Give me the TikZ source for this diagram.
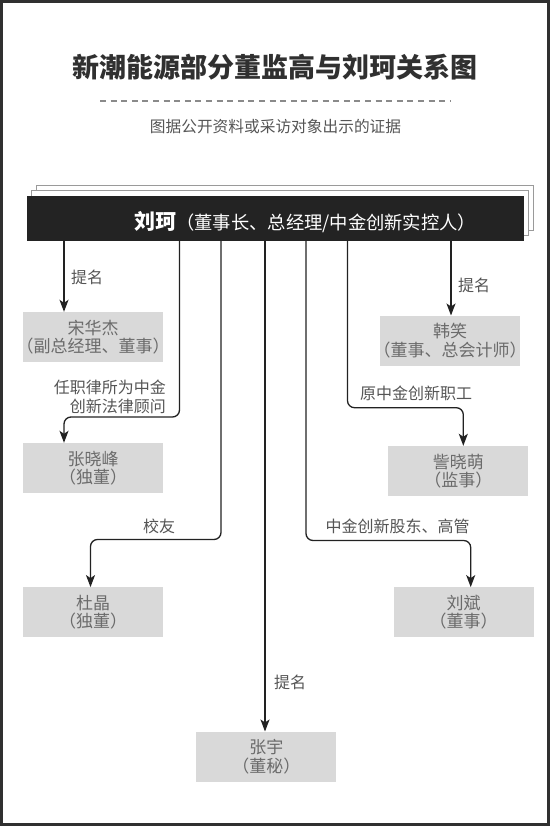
\documentclass[tikz,border=0pt]{standalone}
\usepackage{fontspec}
\usetikzlibrary{arrows.meta,shadows}
\newfontfamily\cjk{Noto Sans CJK SC}
\definecolor{Frame}{HTML}{303030}
\definecolor{Ink}{HTML}{222222}
\definecolor{BossFill}{HTML}{232323}
\definecolor{SheetLine}{HTML}{9A9A9A}
\definecolor{BoxGrey}{HTML}{D9D9D9}
\definecolor{BoxText}{HTML}{6B6B6B}
\definecolor{LabelText}{HTML}{555555}
\definecolor{DashGrey}{HTML}{8A8A8A}
\newcommand{\roleline}[1]{\makebox[136pt]{#1}}

\begin{document}
\begin{tikzpicture}[x=1pt,y=-1pt,every node/.style={font=\cjk},
  person/.style={fill=BoxGrey,minimum width=140pt,minimum height=50pt,inner sep=0pt,align=center,text=BoxText,font=\cjk\fontsize{17}{18.5}\selectfont},
  link/.style={draw=Ink,line width=1.3pt,rounded corners=7pt,-{Stealth[length=12pt,width=9pt,inset=3pt]}},
  tag/.style={anchor=west,inner sep=0pt,text=LabelText,font=\cjk\fontsize{16}{18.7}\selectfont}]
\useasboundingbox (0,0) rectangle (550,826);
\fill[white] (0,0) rectangle (550,826);
\draw[Frame,line width=3pt] (1.5,1.5) rectangle (548.5,824.5);
% heading
\node[font=\cjk\bfseries\fontsize{27}{30}\selectfont,text=Frame] (title) at (275,67) {新潮能源部分董监高与刘珂关系图};
\draw[DashGrey,line width=1.2pt,dash pattern=on 6pt off 4.6pt] (100,101) -- (451,101);
\node[font=\cjk\fontsize{15.7}{18}\selectfont,text=LabelText] (subtitle) at (275.5,127) {图据公开资料或采访对象出示的证据};
% top box
\node[fill=BossFill,minimum width=497pt,minimum height=45pt,inner sep=0pt,double copy shadow={shadow xshift=4.5pt,shadow yshift=5.3pt,fill=white,draw=SheetLine,line width=0.8pt}] (boss) at (275.5,218.5) {};
\node[anchor=west,inner sep=0pt,text=white] (bossname) at (134,222) {\fontsize{21}{24}\selectfont\bfseries 刘珂\fontsize{18.3}{24}\selectfont\mdseries （董事长、总经理/中金创新实控人）};
% people
\node[person] (song) at (93,337) {宋华杰\\\roleline{（副总经理、董事）}};
\node[person] (zhangxf) at (93,468) {张晓峰\\（独董）};
\node[person] (du) at (93,612.3) {杜晶\\（独董）};
\node[person] (zhangyu) at (266.3,756.7) {张宇\\（董秘）};
\node[person] (han) at (450,340.7) {韩笑\\\roleline{（董事、总会计师）}};
\node[person] (zi) at (458.3,471) {訾晓萌\\（监事）};
\node[person] (liubin) at (463.7,612.3) {刘斌\\（董事）};
% links
\draw[link] (boss.south -| 64,0) -- (song.north -| 64,0);
\draw[link] (boss.south -| 179.5,0) -- (179.5,417) -- (64,417) -- (zhangxf.north -| 64,0);
\draw[link] (boss.south -| 221,0) -- (221,539.5) -- (90.5,539.5) -- (du.north -| 90.5,0);
\draw[link] (boss.south -| 265,0) -- (zhangyu.north -| 265,0);
\draw[link] (boss.south -| 306,0) -- (306,540.5) -- (470.7,540.5) -- (liubin.north -| 470.7,0);
\draw[link] (boss.south -| 347.5,0) -- (347.5,407.7) -- (463.3,407.7) -- (zi.north -| 463.3,0);
\draw[link] (boss.south -| 451,0) -- (han.north -| 451,0);
\node[tag] (tsong) at (71,277) {提名};
\node[tag,anchor=east,align=right] (tzhangxf) at (166,396.7) {任职律所为中金\\创新法律顾问};
\node[tag] (tdu) at (143,526) {校友};
\node[tag] (tzhangyu) at (274,682.3) {提名};
\node[tag] (tliubin) at (325.5,526.7) {中金创新股东、高管};
\node[tag] (tzi) at (360,393.3) {原中金创新职工};
\node[tag] (than) at (458,285) {提名};
\end{tikzpicture}
\end{document}
